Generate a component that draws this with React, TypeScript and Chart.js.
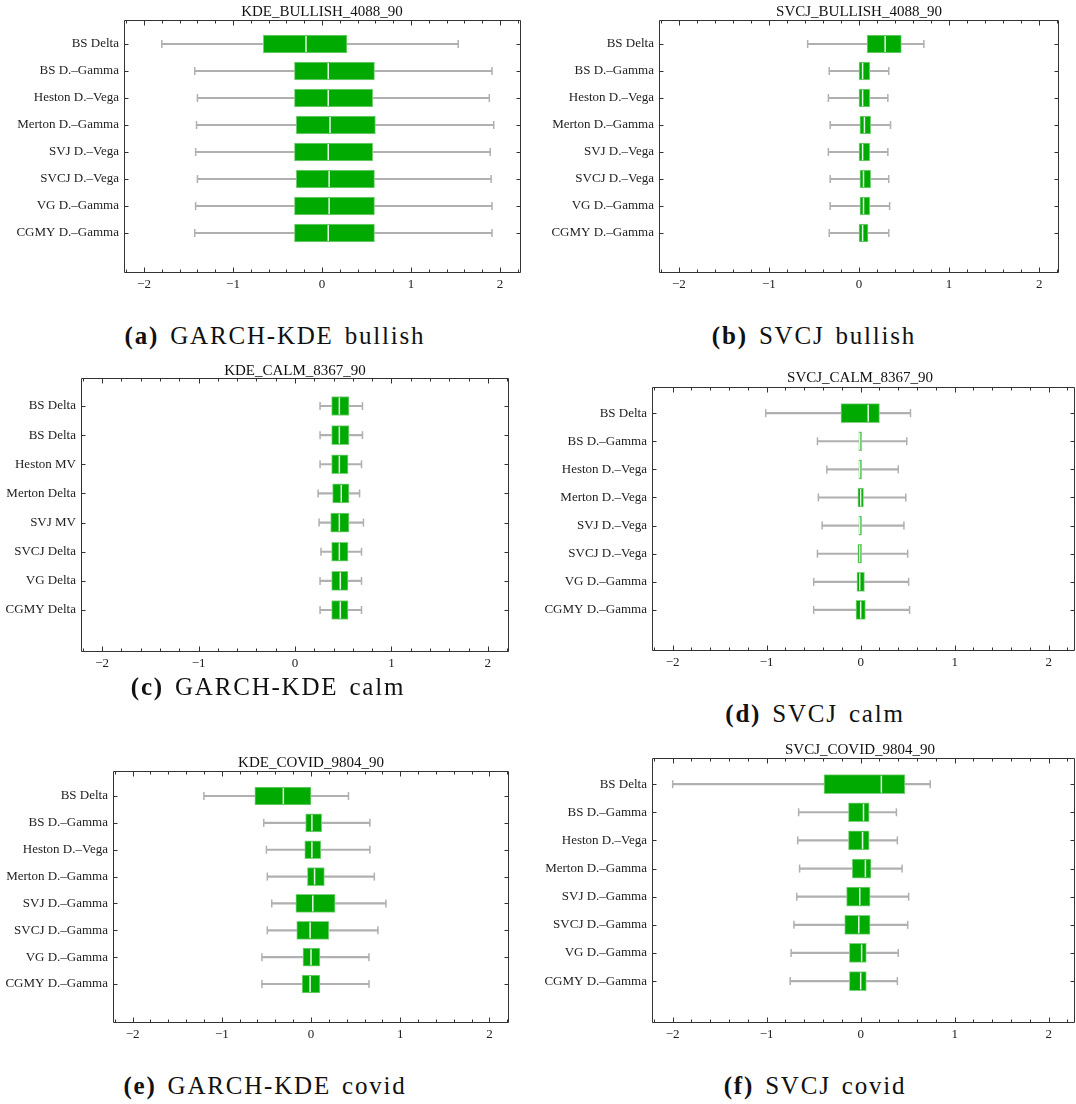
import React, { useEffect, useRef } from "react";
import { Chart, registerables } from "chart.js";

Chart.register(...registerables);

// ---------- data ----------
const LABELS_AB = ["BS Delta", "BS D.–Gamma", "Heston D.–Vega", "Merton D.–Gamma", "SVJ D.–Vega", "SVCJ D.–Vega", "VG D.–Gamma", "CGMY D.–Gamma"];
const LABELS_C = ["BS Delta", "BS Delta", "Heston MV", "Merton Delta", "SVJ MV", "SVCJ Delta", "VG Delta", "CGMY Delta"];
const LABELS_D = ["BS Delta", "BS D.–Gamma", "Heston D.–Vega", "Merton D.–Vega", "SVJ D.–Vega", "SVCJ D.–Vega", "VG D.–Gamma", "CGMY D.–Gamma"];
const LABELS_EF = ["BS Delta", "BS D.–Gamma", "Heston D.–Vega", "Merton D.–Gamma", "SVJ D.–Gamma", "SVCJ D.–Gamma", "VG D.–Gamma", "CGMY D.–Gamma"];

const A_LOW = [-1.80, -1.43, -1.40, -1.41, -1.42, -1.40, -1.42, -1.43];
const A_Q1 = [-0.66, -0.31, -0.31, -0.29, -0.31, -0.29, -0.31, -0.31];
const A_MED = [-0.18, 0.07, 0.07, 0.09, 0.07, 0.08, 0.08, 0.07];
const A_Q3 = [0.28, 0.59, 0.57, 0.60, 0.57, 0.59, 0.59, 0.59];
const A_HIGH = [1.53, 1.91, 1.88, 1.93, 1.89, 1.90, 1.91, 1.91];

const B_LOW = [-0.57, -0.33, -0.34, -0.32, -0.34, -0.32, -0.32, -0.33];
const B_Q1 = [0.09, 0.00, 0.00, 0.01, 0.00, 0.01, 0.01, 0.00];
const B_MED = [0.29, 0.04, 0.04, 0.06, 0.04, 0.05, 0.05, 0.04];
const B_Q3 = [0.47, 0.12, 0.12, 0.13, 0.12, 0.13, 0.12, 0.10];
const B_HIGH = [0.72, 0.33, 0.32, 0.35, 0.32, 0.33, 0.34, 0.33];

const C_LOW = [0.26, 0.26, 0.26, 0.24, 0.25, 0.27, 0.26, 0.26];
const C_Q1 = [0.38, 0.38, 0.38, 0.39, 0.37, 0.38, 0.38, 0.38];
const C_MED = [0.46, 0.46, 0.46, 0.48, 0.46, 0.46, 0.47, 0.47];
const C_Q3 = [0.56, 0.56, 0.55, 0.56, 0.56, 0.55, 0.55, 0.55];
const C_HIGH = [0.70, 0.70, 0.69, 0.67, 0.71, 0.69, 0.69, 0.69];

const D_LOW = [-1.01, -0.46, -0.36, -0.45, -0.41, -0.46, -0.50, -0.50];
const D_Q1 = [-0.21, -0.02, -0.02, -0.03, -0.02, -0.03, -0.04, -0.05];
const D_MED = [0.08, -0.01, -0.01, 0.00, -0.01, -0.01, -0.01, 0.00];
const D_Q3 = [0.20, 0.01, 0.01, 0.03, 0.01, 0.01, 0.04, 0.05];
const D_HIGH = [0.53, 0.49, 0.40, 0.48, 0.46, 0.50, 0.51, 0.52];

const E_LOW = [-1.20, -0.53, -0.50, -0.49, -0.44, -0.49, -0.55, -0.55];
const E_Q1 = [-0.63, -0.06, -0.07, -0.04, -0.17, -0.16, -0.09, -0.10];
const E_MED = [-0.31, 0.01, 0.01, 0.04, 0.02, -0.01, 0.00, -0.01];
const E_Q3 = [0.00, 0.12, 0.11, 0.15, 0.27, 0.20, 0.10, 0.10];
const E_HIGH = [0.42, 0.66, 0.66, 0.71, 0.84, 0.75, 0.65, 0.65];

const F_LOW = [-2.00, -0.66, -0.67, -0.65, -0.68, -0.71, -0.74, -0.75];
const F_Q1 = [-0.39, -0.13, -0.13, -0.09, -0.15, -0.17, -0.12, -0.12];
const F_MED = [0.22, 0.03, 0.02, 0.05, -0.01, -0.02, 0.01, 0.00];
const F_Q3 = [0.47, 0.09, 0.09, 0.11, 0.10, 0.10, 0.06, 0.06];
const F_HIGH = [0.74, 0.38, 0.39, 0.44, 0.51, 0.50, 0.40, 0.39];

const X_MAJOR = [-2, -1, 0, 1, 2];
const X_MINOR_STEP = 0.2;

// ---------- styles ----------
const BOX = "#00aa00";
const BOX_EDGE = "#7fd27f";
const MEDIAN = "#e6f6e6";
const WHISKER = "#b0b0b0";
const FRAME = "#333333";
const FONT = "'Liberation Serif', 'Times New Roman', serif";

type Panel = {
  title: string;
  tag: string;
  caption: string;
  labels: string[];
  low: number[]; q1: number[]; med: number[]; q3: number[]; high: number[];
  x0: number; y0: number; x1: number; y1: number;
  xmin: number; xmax: number; ymin: number; ymax: number;
  col: number; titleX: number; titleY: number; capX: number; capY: number;
};

const PANELS: Panel[] = [
  { title: "KDE_BULLISH_4088_90", tag: "(a)", caption: "GARCH-KDE bullish", labels: LABELS_AB,
    low: A_LOW, q1: A_Q1, med: A_MED, q3: A_Q3, high: A_HIGH,
    x0: 124, y0: 20, x1: 521, y1: 273, xmin: -2.225, xmax: 2.236, ymin: 0.11, ymax: 9.48,
    col: 0, titleX: 322, titleY: 11, capX: 275, capY: 335 },
  { title: "SVCJ_BULLISH_4088_90", tag: "(b)", caption: "SVCJ bullish", labels: LABELS_AB,
    low: B_LOW, q1: B_Q1, med: B_MED, q3: B_Q3, high: B_HIGH,
    x0: 659, y0: 20, x1: 1059, y1: 273, xmin: -2.22, xmax: 2.22, ymin: 0.11, ymax: 9.48,
    col: 540, titleX: 859, titleY: 11, capX: 814, capY: 335 },
  { title: "KDE_CALM_8367_90", tag: "(c)", caption: "GARCH-KDE calm", labels: LABELS_C,
    low: C_LOW, q1: C_Q1, med: C_MED, q3: C_Q3, high: C_HIGH,
    x0: 81, y0: 378, x1: 509, y1: 652, xmin: -2.22, xmax: 2.22, ymin: 0.04, ymax: 9.44,
    col: 0, titleX: 295, titleY: 370, capX: 268, capY: 686 },
  { title: "SVCJ_CALM_8367_90", tag: "(d)", caption: "SVCJ calm", labels: LABELS_D,
    low: D_LOW, q1: D_Q1, med: D_MED, q3: D_Q3, high: D_HIGH,
    x0: 652, y0: 387, x1: 1075, y1: 651, xmin: -2.22, xmax: 2.28, ymin: 0.07, ymax: 9.46,
    col: 540, titleX: 860, titleY: 377, capX: 815, capY: 713 },
  { title: "KDE_COVID_9804_90", tag: "(e)", caption: "GARCH-KDE covid", labels: LABELS_EF,
    low: E_LOW, q1: E_Q1, med: E_MED, q3: E_Q3, high: E_HIGH,
    x0: 113, y0: 771, x1: 509, y1: 1023, xmin: -2.22, xmax: 2.22, ymin: 0.07, ymax: 9.45,
    col: 0, titleX: 311, titleY: 762, capX: 265, capY: 1085 },
  { title: "SVCJ_COVID_9804_90", tag: "(f)", caption: "SVCJ covid", labels: LABELS_EF,
    low: F_LOW, q1: F_Q1, med: F_MED, q3: F_Q3, high: F_HIGH,
    x0: 652, y0: 758, x1: 1075, y1: 1023, xmin: -2.22, xmax: 2.28, ymin: 0.07, ymax: 9.49,
    col: 540, titleX: 860, titleY: 749, capX: 815, capY: 1085 },
];

const AXIS_H = 24;
const PAD_T = 3;

function fmtX(v: number) {
  return v < 0 ? "\u2212" + Math.abs(v) : String(v);
}

function zeroPad(s: any) {
  s.paddingLeft = 0; s.paddingRight = 0; s.paddingTop = 0; s.paddingBottom = 0;
}

function BoxPanel({ p }: { p: Panel }) {
  const ref = useRef<HTMLCanvasElement>(null);
  const canvasLeft = p.col;
  const canvasRight = Math.min(p.x1 + 3, 1076);
  const canvasTop = p.y0 - PAD_T;
  const W = canvasRight - canvasLeft;
  const H = p.y1 - p.y0 + PAD_T + AXIS_H;

  useEffect(() => {
    if (!ref.current) return;
    const rows = p.labels.map((_, i) => i + 1);
    const whisker = rows.map((r, i) => ({ x: [p.low[i], p.high[i]], y: r }));
    const boxes = rows.map((r, i) => ({ x: [p.q1[i], p.q3[i]], y: r }));
    const caps = rows.flatMap((r, i) => [{ x: p.low[i], y: r }, { x: p.high[i], y: r }]);
    const meds = rows.map((r, i) => ({ x: p.med[i], y: r }));
    const rowPx = (p.y1 - p.y0) / (p.ymax - p.ymin);
    const boxH = Math.round(rowPx * 0.66);

    const framePlugin = {
      id: "frameTicks",
      afterDraw(chart: any) {
        const { ctx, chartArea: a, scales } = chart;
        const xs = scales.x;
        const ys = scales.y;
        ctx.save();
        ctx.strokeStyle = FRAME;
        ctx.lineWidth = 1;
        const L = Math.round(a.left) + 0.5;
        const R = Math.round(a.right) - 0.5;
        const T = Math.round(a.top) + 0.5;
        const B = Math.round(a.bottom) - 0.5;
        ctx.beginPath();
        ctx.moveTo(L, T); ctx.lineTo(R, T); ctx.lineTo(R, B); ctx.lineTo(L, B); ctx.closePath();
        ctx.stroke();
        ctx.beginPath();
        const nMin = Math.ceil(p.xmin / X_MINOR_STEP);
        const nMax = Math.floor(p.xmax / X_MINOR_STEP);
        for (let k = nMin; k <= nMax; k++) {
          const v = k * X_MINOR_STEP;
          const major = X_MAJOR.some((m) => Math.abs(m - v) < 1e-6);
          const len = major ? 5 : 3;
          const px = Math.round(xs.getPixelForValue(v)) + 0.5;
          ctx.moveTo(px, B); ctx.lineTo(px, B - len);
          ctx.moveTo(px, T); ctx.lineTo(px, T + len);
        }
        rows.forEach((r) => {
          const py = Math.round(ys.getPixelForValue(r)) + 0.5;
          ctx.moveTo(L, py); ctx.lineTo(L + 4, py);
          ctx.moveTo(R, py); ctx.lineTo(R - 4, py);
        });
        ctx.stroke();
        ctx.restore();
      },
    };

    const chart = new Chart(ref.current, {
      type: "bar",
      data: {
        datasets: [
          { type: "bar", data: whisker as any, backgroundColor: WHISKER, barThickness: 1.5, grouped: false, order: 4, borderWidth: 0 } as any,
          { type: "scatter", data: caps, pointStyle: "line", pointRadius: 4, pointHoverRadius: 4, pointRotation: 90,
            pointBorderColor: WHISKER, pointBorderWidth: 1.5, borderColor: WHISKER, order: 3, clip: false } as any,
          { type: "bar", data: boxes as any, backgroundColor: BOX, borderColor: BOX_EDGE, borderWidth: 1,
            borderSkipped: false, barThickness: boxH, grouped: false, order: 2 } as any,
          { type: "scatter", data: meds, pointStyle: "line", pointRadius: boxH / 2 - 1, pointHoverRadius: boxH / 2 - 1,
            pointRotation: 90, pointBorderColor: MEDIAN, pointBorderWidth: 1.5, borderColor: MEDIAN, order: 1, clip: false } as any,
        ],
      },
      options: {
        indexAxis: "y",
        responsive: false,
        animation: false,
        events: [],
        layout: { autoPadding: false, padding: { top: PAD_T, right: canvasRight - p.x1, left: 0, bottom: 0 } },
        plugins: { legend: { display: false }, tooltip: { enabled: false }, title: { display: false } },
        scales: {
          x: {
            type: "linear",
            position: "bottom",
            min: p.xmin,
            max: p.xmax,
            offset: false,
            grace: 0,
            grid: { display: false, drawTicks: false, offset: false },
            border: { display: false },
            ticks: { font: { family: FONT, size: 13 }, color: "#222", padding: 4, maxRotation: 0, autoSkip: false,
              callback: (v: any) => fmtX(Number(v)) },
            afterBuildTicks: (s: any) => { s.ticks = X_MAJOR.map((v) => ({ value: v })); },
            afterFit: (s: any) => { s.height = AXIS_H; zeroPad(s); },
          },
          y: {
            type: "linear",
            position: "left",
            reverse: true,
            min: p.ymin,
            max: p.ymax,
            offset: false,
            grace: 0,
            grid: { display: false, drawTicks: false, offset: false },
            border: { display: false },
            ticks: { font: { family: FONT, size: 13 }, color: "#222", padding: 5, autoSkip: false,
              callback: (v: any) => p.labels[Number(v) - 1] ?? "" },
            afterBuildTicks: (s: any) => { s.ticks = rows.map((v) => ({ value: v })); },
            afterFit: (s: any) => { s.width = p.x0 - canvasLeft; zeroPad(s); },
          },
        },
      } as any,
      plugins: [framePlugin],
    });
    return () => chart.destroy();
  }, []);

  return (
    <>
      <canvas ref={ref} width={W} height={H}
        style={{ position: "absolute", left: canvasLeft, top: canvasTop, width: W, height: H }} />
      <div style={{ position: "absolute", left: p.titleX, top: p.titleY, transform: "translate(-50%, -50%)",
        fontFamily: FONT, fontSize: 15, color: "#111", whiteSpace: "nowrap", lineHeight: 1 }}>
        {p.title}
      </div>
      <div style={{ position: "absolute", left: p.capX, top: p.capY, transform: "translate(-50%, -50%)",
        fontFamily: FONT, fontSize: 25, color: "#111", whiteSpace: "nowrap", lineHeight: 1, letterSpacing: 1.8, wordSpacing: 3 }}>
        <span style={{ fontWeight: "bold" }}>{p.tag}</span> {p.caption}
      </div>
    </>
  );
}

export default function App() {
  return (
    <div style={{ position: "absolute", left: 0, top: 0, width: 1076, height: 1104, background: "#fff", overflow: "hidden" }}>
      {PANELS.map((p, i) => <BoxPanel key={i} p={p} />)}
    </div>
  );
}
